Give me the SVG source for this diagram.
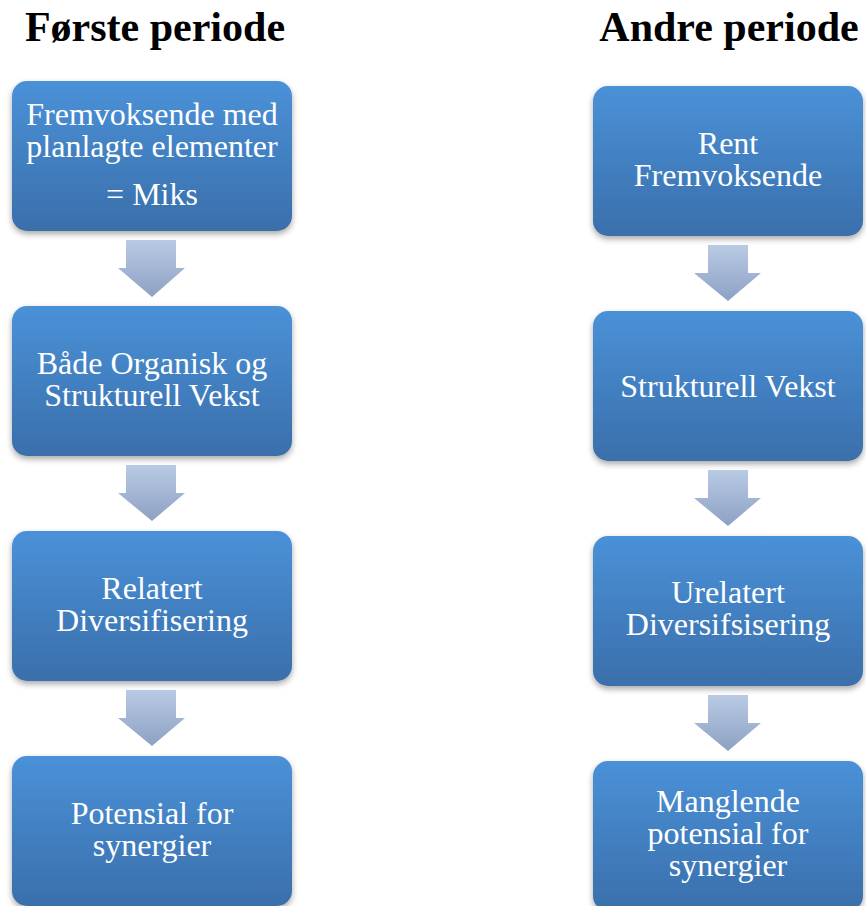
<svg xmlns="http://www.w3.org/2000/svg" width="866" height="906" viewBox="0 0 866 906">
<defs>
  <linearGradient id="boxGrad" x1="0" y1="0" x2="0" y2="1">
    <stop offset="0" stop-color="#4a91d8"/>
    <stop offset="1" stop-color="#3a6fab"/>
  </linearGradient>
  <linearGradient id="arrGrad" x1="0" y1="0" x2="0" y2="1">
    <stop offset="0" stop-color="#b9cae4"/>
    <stop offset="1" stop-color="#8da1c3"/>
  </linearGradient>
  <filter id="shadow" x="-10%" y="-10%" width="120%" height="125%">
    <feGaussianBlur in="SourceAlpha" stdDeviation="3"/>
    <feOffset dx="0" dy="3" result="b"/>
    <feComponentTransfer><feFuncA type="linear" slope="0.35"/></feComponentTransfer>
    <feMerge><feMergeNode/><feMergeNode in="SourceGraphic"/></feMerge>
  </filter>
</defs>
<style>
  .box { fill: url(#boxGrad); filter: url(#shadow); }
  .arr { fill: url(#arrGrad); }
  .lbl { font-family: "Liberation Serif", "Times New Roman", serif; font-size: 32px; fill: #ffffff; text-anchor: middle; }
  .title { font-family: "Liberation Serif", "Times New Roman", serif; font-size: 42px; font-weight: bold; fill: #000000; text-anchor: middle; }
</style>
<rect width="866" height="906" fill="#ffffff"/>

<g id="titles">
  <text class="title" x="155" y="41">Første periode</text>
  <text class="title" x="729" y="41">Andre periode</text>
</g>

<g id="connectors">
  <path class="arr" d="M126 240 H176 V268 H185 L152 297 L118 268 H126 Z"/>
  <path class="arr" d="M126 465 H176 V493 H185 L152 521 L118 493 H126 Z"/>
  <path class="arr" d="M126 690 H176 V718 H185 L152 746 L118 718 H126 Z"/>
  <path class="arr" d="M708 245 H748 V273 H761 L728 301 L694 273 H708 Z"/>
  <path class="arr" d="M708 470 H748 V498 H761 L728 526 L694 498 H708 Z"/>
  <path class="arr" d="M708 695 H748 V723 H761 L728 751 L694 723 H708 Z"/>
</g>

<g id="l1">
  <rect class="box" x="12" y="81" width="280" height="150" rx="15"/>
  <text class="lbl" x="152" y="125">Fremvoksende med</text>
  <text class="lbl" x="152" y="157">planlagte elementer</text>
  <text class="lbl" x="152" y="205">= Miks</text>
</g>
<g id="l2">
  <rect class="box" x="12" y="306" width="280" height="150" rx="15"/>
  <text class="lbl" x="152" y="374">Både Organisk og</text>
  <text class="lbl" x="152" y="406">Strukturell Vekst</text>
</g>
<g id="l3">
  <rect class="box" x="12" y="531" width="280" height="150" rx="15"/>
  <text class="lbl" x="152" y="599">Relatert</text>
  <text class="lbl" x="152" y="631">Diversifisering</text>
</g>
<g id="l4">
  <rect class="box" x="12" y="756" width="280" height="150" rx="15"/>
  <text class="lbl" x="152" y="824">Potensial for</text>
  <text class="lbl" x="152" y="856">synergier</text>
</g>

<g id="r1">
  <rect class="box" x="593" y="86" width="270" height="150" rx="15"/>
  <text class="lbl" x="728" y="154">Rent</text>
  <text class="lbl" x="728" y="186">Fremvoksende</text>
</g>
<g id="r2">
  <rect class="box" x="593" y="311" width="270" height="150" rx="15"/>
  <text class="lbl" x="728" y="397">Strukturell Vekst</text>
</g>
<g id="r3">
  <rect class="box" x="593" y="536" width="270" height="150" rx="15"/>
  <text class="lbl" x="728" y="603">Urelatert</text>
  <text class="lbl" x="728" y="635">Diversifsisering</text>
</g>
<g id="r4">
  <rect class="box" x="593" y="761" width="270" height="150" rx="15"/>
  <text class="lbl" x="728" y="812">Manglende</text>
  <text class="lbl" x="728" y="844">potensial for</text>
  <text class="lbl" x="728" y="876">synergier</text>
</g>
</svg>
